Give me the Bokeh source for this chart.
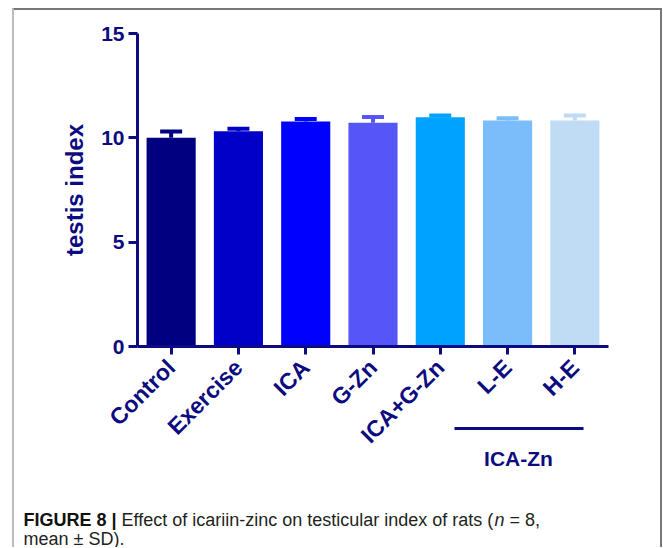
import math
from bokeh.plotting import figure
from bokeh.layouts import column
from bokeh.models import (ColumnDataSource, Range1d, FixedTicker, Whisker, TeeHead)
from bokeh.core.properties import field, value
from bokeh.embed import file_html
from bokeh.resources import INLINE

# ---- data ----
groups = ["Control", "Exercise", "ICA", "G-Zn", "ICA+G-Zn", "L-E", "H-E"]
means = [10.00, 10.32, 10.78, 10.72, 10.99, 10.83, 10.83]
sd = [0.30, 0.11, 0.12, 0.28, 0.08, 0.11, 0.24]
colors = ["#000080", "#0000C8", "#0000FF", "#5555F8", "#00A2FF", "#7ABDFA", "#C0DCF5"]
y_ticks = [0, 5, 10, 15]
y_label = "testis index"
group_label = "ICA-Zn"
caption_bold = "FIGURE 8 |"
caption_1 = "Effect of icariin-zinc on testicular index of rats ("
caption_n = "n"
caption_2 = "= 8,"
caption_3 = "mean \u00b1 SD)."

NAVY = "#0c0c80"
W, H = 662, 547
FL, FR, FT, FB = 137, 608, 33, 346   # plot frame in canvas pixels

pos = list(range(len(groups)))
src = ColumnDataSource(dict(
    x=pos, m=means, up=[a + b for a, b in zip(means, sd)], c=colors))

p = figure(x_range=Range1d(-0.5, len(groups) - 0.5), y_range=Range1d(0, 15),
           width=W, height=H, output_backend="svg", toolbar_location=None,
           min_border_left=FL, min_border_right=W - FR, min_border_top=FT,
           min_border_bottom=H - FB)
p.xgrid.visible = False
p.ygrid.visible = False
p.outline_line_color = None
p.border_fill_color = "white"
p.background_fill_color = "white"

p.vbar(x="x", top="m", bottom=0, width=0.73, fill_color="c", line_color=None, source=src)

w = Whisker(base="x", lower="m", upper="up", source=src,
            line_color=field("c"), line_width=4,
            upper_head=TeeHead(size=22, line_width=4, line_color=field("c")),
            lower_head=None)
p.add_layout(w)

for ax in (p.xaxis[0], p.yaxis[0]):
    ax.axis_line_color = NAVY
    ax.axis_line_width = 3
    ax.major_tick_line_color = NAVY
    ax.major_tick_line_width = 3
    ax.major_tick_in = 0
    ax.minor_tick_line_color = None
    ax.major_label_text_color = NAVY
    ax.major_label_text_font = "Liberation Sans"
    ax.major_label_text_font_style = "bold"

p.yaxis.ticker = FixedTicker(ticks=y_ticks)
p.yaxis.major_tick_out = 9
p.yaxis.major_label_text_font_size = "21px"
p.yaxis.major_label_standoff = 4
p.yaxis.axis_label = y_label
p.yaxis.axis_label_text_font = "Liberation Sans"
p.yaxis.axis_label_text_font_style = "bold"
p.yaxis.axis_label_text_font_size = "24px"
p.yaxis.axis_label_text_color = NAVY
p.yaxis.axis_label_standoff = 10

p.xaxis.ticker = FixedTicker(ticks=pos)
p.xaxis.major_label_overrides = {i: g for i, g in zip(pos, groups)}
p.xaxis.major_tick_out = 8
p.xaxis.major_label_text_font_size = "23px"
p.xaxis.major_label_orientation = math.pi / 4
p.xaxis.major_label_standoff = 9

# ---- transparent overlay (same size) for frame lines, bracket and caption ----
o = figure(x_range=Range1d(0, W), y_range=Range1d(H, 0), width=W, height=H,
           output_backend="svg", toolbar_location=None,
           x_axis_type=None, y_axis_type=None,
           min_border=0, min_border_left=0, min_border_right=0,
           min_border_top=0, min_border_bottom=0,
           margin=(-H, 0, 0, 0))
o.xgrid.visible = False
o.ygrid.visible = False
o.outline_line_color = None
o.border_fill_color = None
o.background_fill_color = None
for fig in (p, o):
    if "frame_align" in fig.properties():
        fig.frame_align = False

# panel frame lines
o.segment(x0=[12, 12.5, 660.5], y0=[8.5, 8, 8], x1=[662, 12.5, 660.5], y1=[8.5, H, H],
          line_color=["#777777", "#bbbbbb", "#777777"], line_width=2)

# group bracket under L-E / H-E
o.segment(x0=[454], y0=[428], x1=[583], y1=[428], line_color=NAVY, line_width=3)
o.text(x=[518], y=[458], text=[group_label], text_align="center",
       text_baseline="alphabetic", text_font=value("Liberation Sans"),
       text_font_style=value("bold"), text_font_size=value("21px"), text_color=NAVY)

# caption
def cap(x, y, t, style, color="#231f20"):
    o.text(x=[x], y=[y], text=[t], text_align="left", text_baseline="alphabetic",
           text_font=value("Liberation Sans"), text_font_style=value(style),
           text_font_size=value("18px"), text_color=color)

cap(23, 519, caption_bold, "bold", "#111111")
cap(121, 519, caption_1, "normal")
cap(494, 519, caption_n, "italic")
cap(509, 519, caption_2, "normal")
cap(23, 538, caption_3, "normal")

layout = column(p, o, spacing=0)
open("out.html", "w").write(file_html(layout, INLINE))
